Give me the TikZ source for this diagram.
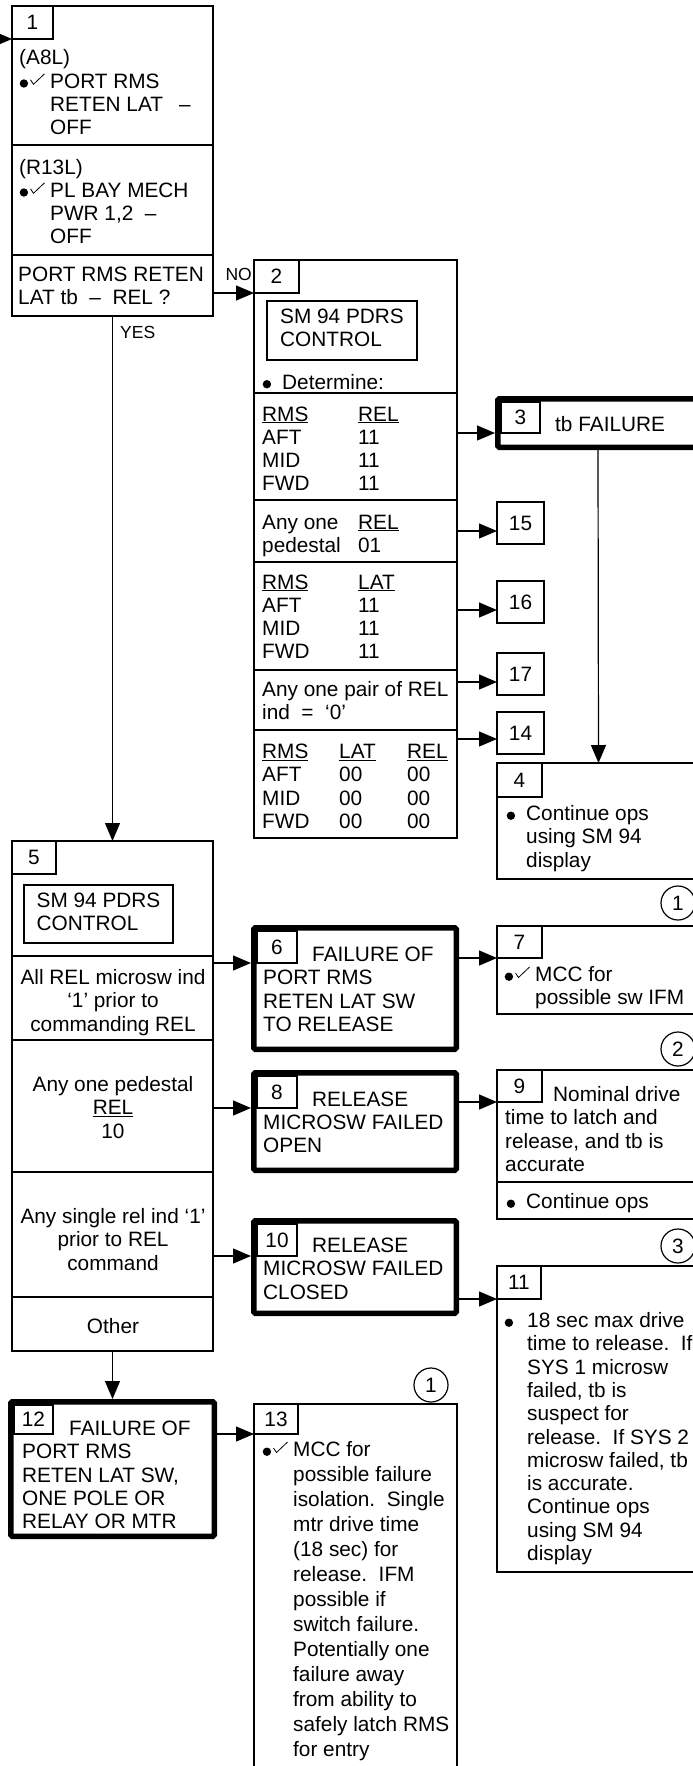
\documentclass[tikz,border=0pt]{standalone}
\usepackage{fontspec}
\setmainfont{Liberation Sans}
\usepackage{graphicx}
\usetikzlibrary{arrows.meta,positioning}

\newcommand\bodyfont{\fontsize{20.8}{23.3}\selectfont}
\newcommand\lblfont{\fontsize{17.5}{20}\selectfont}
\newcommand\lns[1]{\begin{tabular}[t]{@{}l@{}}#1\end{tabular}}
\newcommand\clns[1]{\begin{tabular}[t]{@{}c@{}}#1\end{tabular}}
% bullet and check marks
\newcommand\bdot{\tikz[baseline=0pt]\fill (4.2pt,4.8pt) circle[radius=4.2pt];}
\newcommand\chk{\tikz[baseline=0pt]\draw[line width=0.8pt] (0pt,8.5pt) -- (3pt,4pt) -- (14pt,14.5pt);}
\newcommand\bulchk{\makebox[31pt][l]{\hspace{0.5pt}\bdot\hspace{2pt}\chk}}
\newcommand\bul[1][20pt]{\makebox[#1][l]{\hspace{0.5pt}\bdot}}
\newcommand\indnt[1][31pt]{\hspace*{#1}}

\tikzset{
    box/.style={
        draw, line width=1.2pt,
        inner sep=0pt, outer sep=0pt,
        anchor=north west
    },
    failbox/.style={
        draw, line width=5.5pt, rounded corners=1.5pt,
        inner sep=0pt,
        anchor=north west
    },
    numbox/.style={
        draw, line width=1.2pt,
        inner sep=0pt, outer sep=0pt,
        anchor=north west,
        minimum width=45pt, minimum height=33pt
    },
    refbox/.style={
        draw, line width=1.2pt,
        inner sep=0pt, outer sep=0pt,
        anchor=north west,
        minimum width=47pt, minimum height=42pt
    },
    note/.style={circle, draw, line width=1.2pt, minimum size=34pt, inner sep=0pt},
    txt/.style={anchor=base west, inner sep=0pt},
    ctxt/.style={anchor=base, inner sep=0pt},
    lbl/.style={font=\lblfont, inner sep=0pt},
    arrow/.style={-{Triangle[length=18pt,width=15pt]}, line width=1.2pt},
}

\begin{document}
\begin{tikzpicture}[x=1pt, y=-1pt, font=\bodyfont]

    \useasboundingbox (0,0) rectangle (693,1766);
    \clip (0,0) rectangle (693,1766);

    % Block 1
    \node[box, minimum width=201, minimum height=139] (s1a) at (12,6) {};
    \node[box, minimum width=201, minimum height=110, below=0pt of s1a] (s1b) {};
    \node[box, minimum width=201, minimum height=61, below=0pt of s1b] (s1c) {};
    \node[numbox, minimum width=41] (n1) at (s1a.north west) {1};
    \node[txt] at (19,65) {\lns{(A8L)\\ \bulchk PORT RMS\\ \indnt RETEN LAT\enspace\ –\\ \indnt OFF}};
    \node[txt] at (19,174) {\lns{(R13L)\\ \bulchk PL BAY MECH\\ \indnt PWR 1,2\ \ –\\ \indnt OFF}};
    \node[txt] at (18,281) {\lns{PORT RMS RETEN\\ LAT tb\ \ –\ \ REL ?}};

    % Block 2
    \node[box, minimum width=203, minimum height=133] (b2a) at (254,260) {};
    \node[box, minimum width=203, minimum height=107, below=0pt of b2a] (b2b) {};
    \node[box, minimum width=203, minimum height=62, below=0pt of b2b] (b2c) {};
    \node[box, minimum width=203, minimum height=108, below=0pt of b2c] (b2d) {};
    \node[box, minimum width=203, minimum height=60, below=0pt of b2d] (b2e) {};
    \node[box, minimum width=203, minimum height=108, below=0pt of b2e] (b2f) {};
    \node[numbox] (n2) at (b2a.north west) {2};
    \node[box, minimum width=150, minimum height=59] (sm2) at (267,301) {\lns{SM 94 PDRS\\ CONTROL}};
    \node[txt] at (262,389) {\bul Determine:};
    \node[txt] at (262,421) {\begin{tabular}[t]{@{}p{96pt}@{}l@{}}\underline{RMS} & \underline{REL}\\ AFT & 11\\ MID & 11\\ FWD & 11\end{tabular}};
    \node[txt] at (262,529) {\begin{tabular}[t]{@{}p{96pt}@{}l@{}}Any one & \underline{REL}\\ pedestal & 01\end{tabular}};
    \node[txt] at (262,589) {\begin{tabular}[t]{@{}p{96pt}@{}l@{}}\underline{RMS} & \underline{LAT}\\ AFT & 11\\ MID & 11\\ FWD & 11\end{tabular}};
    \node[txt] at (262,696) {\lns{Any one pair of REL\\ ind\ \ =\ \ ‘0’}};
    \node[txt] at (262,758.5) {\begin{tabular}[t]{@{}p{77pt}@{}p{68pt}@{}l@{}}\underline{RMS} & \underline{LAT} & \underline{REL}\\ AFT & 00 & 00\\ MID & 00 & 00\\ FWD & 00 & 00\end{tabular}};

    % Block 3 and off-page refs
    \node[failbox, minimum width=200.5, minimum height=48.5] (b3) at (495,396) {};
    \node[numbox, minimum width=39, minimum height=31] (n3) at ([shift={(6,6)}]b3.north west) {3};
    \node[txt] at (555,431) {tb FAILURE};
    \node[refbox] (r15) at (497,502) {15};
    \node[refbox] (r16) at (497,581) {16};
    \node[refbox] (r17) at (497,653) {17};
    \node[refbox] (r14) at (497,712) {14};

    % Block 4
    \node[box, minimum width=203, minimum height=116] (b4) at (497,763) {};
    \node[numbox, minimum height=34] (n4) at (b4.north west) {4};
    \node[txt] at (506,820.5) {\lns{\bul Continue ops\\ \indnt[20pt]using SM 94\\ \indnt[20pt]display}};

    % Block 5
    \node[box, minimum width=201, minimum height=115] (b5a) at (12,841) {};
    \node[box, minimum width=201, minimum height=84, below=0pt of b5a] (b5b) {};
    \node[box, minimum width=201, minimum height=132, below=0pt of b5b] (b5c) {};
    \node[box, minimum width=201, minimum height=125, below=0pt of b5c] (b5d) {};
    \node[box, minimum width=201, minimum height=54, below=0pt of b5d] (b5e) {};
    \node[numbox, minimum width=44] (n5) at (b5a.north west) {5};
    \node[box, minimum width=149, minimum height=58] (sm5) at (24,885) {\lns{SM 94 PDRS\\ CONTROL}};
    \node[ctxt] at (113,984.5) {\clns{All REL microsw ind\\ ‘1’ prior to\\ commanding REL}};
    \node[ctxt] at (113,1091.5) {\clns{Any one pedestal\\ \underline{REL}\\ 10}};
    \node[ctxt] at (113,1223.5) {\clns{Any single rel ind ‘1’\\ prior to REL\\ command}};
    \node[ctxt] at (113,1333.5) {Other};

    % Failure blocks 6, 8, 10, 12
    \node[failbox, minimum width=202.5, minimum height=121.5] (b6) at (251,925) {};
    \node[numbox, minimum width=40, minimum height=32] (n6) at ([shift={(6,6)}]b6.north west) {6};
    \node[txt] at (263,961.5) {\lns{\indnt[49pt]FAILURE OF\\ PORT RMS\\ RETEN LAT SW\\ TO RELEASE}};

    \node[failbox, minimum width=202.5, minimum height=97.5] (b8) at (251,1070) {};
    \node[numbox, minimum width=40, minimum height=32] (n8) at ([shift={(6,6)}]b8.north west) {8};
    \node[txt] at (263,1106) {\lns{\indnt[49pt]RELEASE\\ MICROSW FAILED\\ OPEN}};

    \node[failbox, minimum width=202.5, minimum height=92.5] (b10) at (251,1218) {};
    \node[numbox, minimum width=40, minimum height=32] (n10) at ([shift={(6,6)}]b10.north west) {10};
    \node[txt] at (263,1252.5) {\lns{\indnt[49pt]RELEASE\\ MICROSW FAILED\\ CLOSED}};

    \node[failbox, minimum width=203.5, minimum height=134.5] (b12) at (8,1399) {};
    \node[numbox, minimum width=39, minimum height=29] (n12) at ([shift={(6,6)}]b12.north west) {12};
    \node[txt] at (22,1435.5) {\lns{\indnt[47pt]FAILURE OF\\ PORT RMS\\ RETEN LAT SW,\\ ONE POLE OR\\ RELAY OR MTR}};

    % Right column 7, 9, 11
    \node[box, minimum width=203, minimum height=88] (b7) at (497,926) {};
    \node[numbox, minimum height=32] (n7) at (b7.north west) {7};
    \node[txt] at (504,981.5) {\lns{\bulchk MCC for\\ \indnt possible sw IFM}};
    \node[note] (c7) at (678,903) {1};

    \node[box, minimum width=203, minimum height=112] (b9a) at (497,1070) {};
    \node[box, minimum width=203, minimum height=37, below=0pt of b9a] (b9b) {};
    \node[numbox, minimum height=32] (n9) at (b9a.north west) {9};
    \node[txt] at (505,1101.5) {\lns{\indnt[48pt]Nominal drive\\ time to latch and\\ release, and tb is\\ accurate}};
    \node[txt] at (506,1208.5) {\bul Continue ops};
    \node[note] (c9) at (678,1049) {2};

    \node[box, minimum width=203, minimum height=306] (b11) at (497,1266) {};
    \node[numbox, minimum width=44] (n11) at (b11.north west) {11};
    \node[txt] at (504,1327.5) {\lns{\bul[23pt]18 sec max drive\\ \indnt[23pt]time to release.\ \ If\\ \indnt[23pt]SYS 1 microsw\\ \indnt[23pt]failed, tb is\\ \indnt[23pt]suspect for\\ \indnt[23pt]release.\ \ If SYS 2\\ \indnt[23pt]microsw failed, tb\\ \indnt[23pt]is accurate.\\ \indnt[23pt]Continue ops\\ \indnt[23pt]using SM 94\\ \indnt[23pt]display}};
    \node[note] (c11) at (678,1246) {3};

    % Block 13
    \node[box, minimum width=203, minimum height=400] (b13) at (254,1404) {};
    \node[numbox, minimum width=44, minimum height=30] (n13) at (b13.north west) {13};
    \node[txt, font=\fontsize{20.8}{25}\selectfont] at (262,1456.5) {\lns{\bulchk MCC for\\ \indnt possible failure\\ \indnt isolation.\ \ Single\\ \indnt mtr drive time\\ \indnt (18 sec) for\\ \indnt release.\ \ IFM\\ \indnt possible if\\ \indnt switch failure.\\ \indnt Potentially one\\ \indnt failure away\\ \indnt from ability to\\ \indnt safely latch RMS\\ \indnt for entry}};
    \node[note] (c13) at (431,1385) {1};

    % Labels
    \node[lbl, anchor=base east] (no) at (252,280) {NO};
    \node[lbl, anchor=base west] (yes) at (120,338) {YES};

    % Arrows
    \coordinate (entry) at (-20,39);
    \coordinate (a15) at ([yshift=-8pt]r15.west);
    \coordinate (a16) at ([yshift=-8pt]r16.west);
    \coordinate (a17) at ([yshift=-8pt]r17.west);
    \coordinate (a14) at ([yshift=-6pt]r14.west);
    \draw[arrow] (entry) -- (s1a.west |- n1.south);
    \draw[arrow] (s1c.east |- n2.south) -- (b2a.west |- n2.south);
    \draw[arrow] (s1c.south) -- (b5a.north);
    \draw[arrow] (b2b.east |- n3.south) -- (b3.west |- n3.south);
    \draw[arrow] (b2c.east |- a15) -- (a15);
    \draw[arrow] (b2d.east |- a16) -- (a16);
    \draw[arrow] (b2e.east |- a17) -- (a17);
    \draw[arrow] (b2f.east |- a14) -- (a14);
    \draw[arrow] (b3.south) -- (b4.north);
    \draw[arrow] (b5b.east |- n6.south) -- (b6.west |- n6.south);
    \draw[arrow] (b5c.east |- n8.south) -- (b8.west |- n8.south);
    \draw[arrow] (b5d.east |- n10.south) -- (b10.west |- n10.south);
    \draw[arrow] (b5e.south) -- (b12.north);
    \draw[arrow] (b6.east |- n7.south) -- (b7.west |- n7.south);
    \draw[arrow] (b8.east |- n9.south) -- (b9a.west |- n9.south);
    \draw[arrow] (b10.east |- n11.south) -- (b11.west |- n11.south);
    \draw[arrow] (b12.east |- n13.south) -- (b13.west |- n13.south);

\end{tikzpicture}
\end{document}
